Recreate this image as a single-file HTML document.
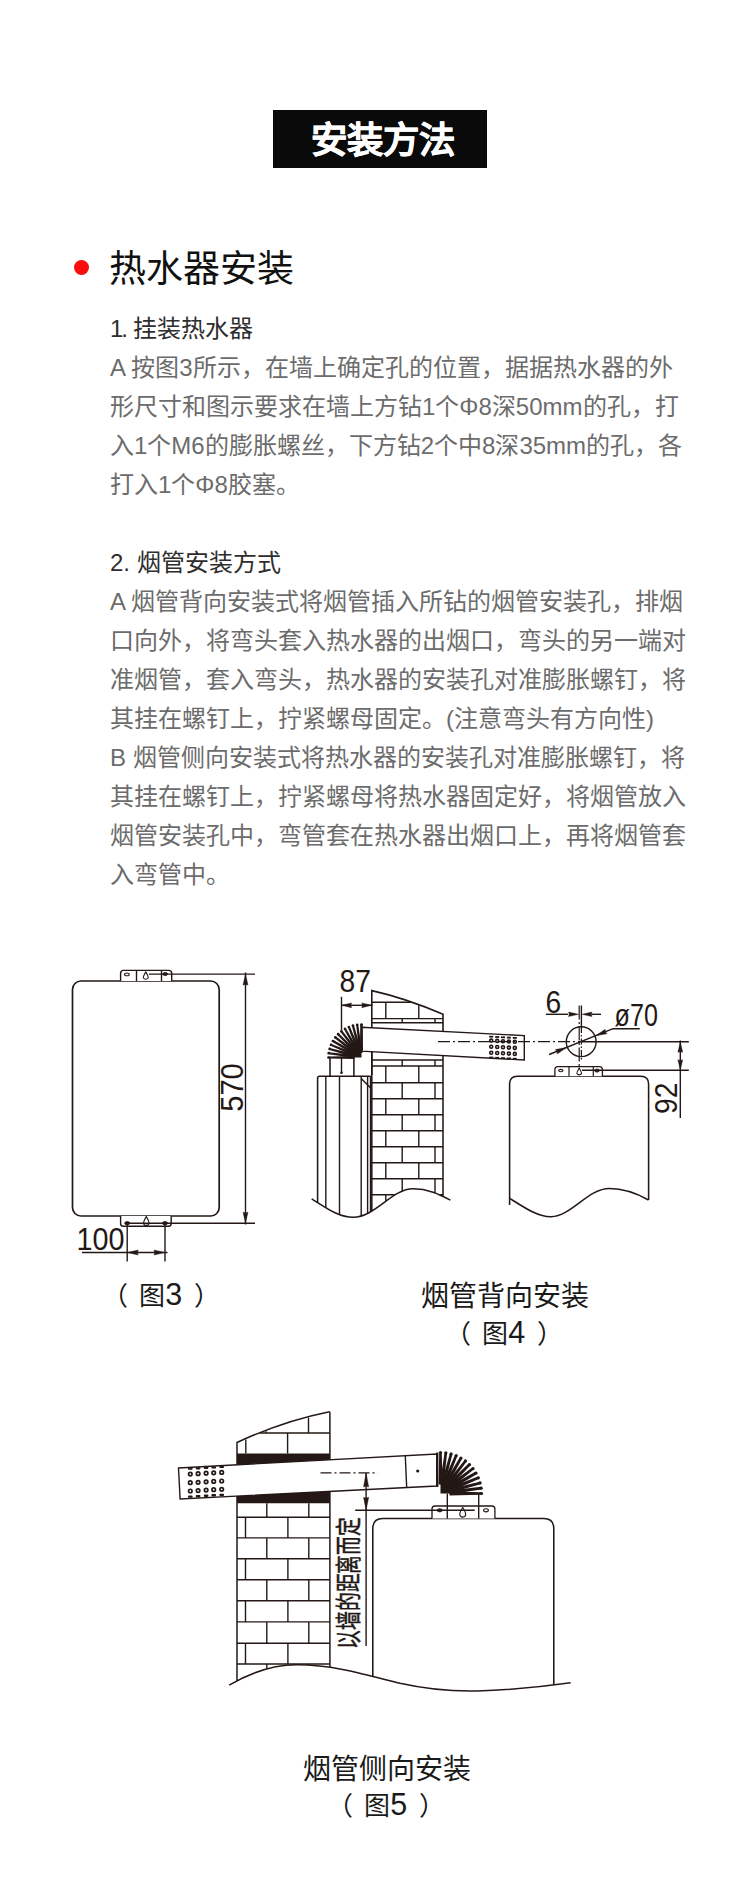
<!DOCTYPE html>
<html lang="zh-CN"><head><meta charset="utf-8">
<style>
*{margin:0;padding:0;box-sizing:border-box}
html,body{width:750px;height:1896px;background:#fff;overflow:hidden}
body{position:relative;font-family:"Liberation Sans",sans-serif;color:#222}
.a{position:absolute;white-space:nowrap}
#ttl{left:273px;top:110px;width:214px;height:58px;background:#0a0a0a}
#ttlt{left:276px;top:112px;width:214px;color:#fff;font-weight:700;font-size:36.4px;line-height:58px;text-align:center;-webkit-text-stroke:0.5px #fff}
#dot{left:74px;top:260px;width:15px;height:15px;border-radius:50%;background:#fb0d0d}
#h2{left:108.5px;top:247.5px;font-size:37px;line-height:44px;font-weight:400;color:#111}
.t{left:110px;font-size:24px;line-height:39px;color:#6c6c6c}
.cap{font-size:28px;line-height:34px;color:#1a1a1a}
.par{font-size:26px;line-height:34px;color:#1a1a1a;word-spacing:4.5px}
svg{position:absolute;left:0;top:0}
</style></head><body>
<div class="a" id="ttl"></div>
<div class="a" id="ttlt">安装方法</div>
<div class="a" id="dot"></div>
<div class="a" id="h2">热水器安装</div>

<div class="a t" style="top:309px;color:#2e2e2e"><span style="letter-spacing:-2px">1.</span> 挂装热水器</div>
<div class="a t" style="top:348px">A 按图3所示，在墙上确定孔的位置，据据热水器的外</div>
<div class="a t" style="top:387px">形尺寸和图示要求在墙上方钻1个Φ8深50mm的孔，打</div>
<div class="a t" style="top:426px">入1个M6的膨胀螺丝，下方钻2个中8深35mm的孔，各</div>
<div class="a t" style="top:465px">打入1个Φ8胶塞。</div>

<div class="a t" style="top:543px;color:#2e2e2e">2. 烟管安装方式</div>
<div class="a t" style="top:582px">A 烟管背向安装式将烟管插入所钻的烟管安装孔，排烟</div>
<div class="a t" style="top:621px">口向外，将弯头套入热水器的出烟口，弯头的另一端对</div>
<div class="a t" style="top:660px">准烟管，套入弯头，热水器的安装孔对准膨胀螺钉，将</div>
<div class="a t" style="top:699px">其挂在螺钉上，拧紧螺母固定。(注意弯头有方向性)</div>
<div class="a t" style="top:738px">B 烟管侧向安装式将热水器的安装孔对准膨胀螺钉，将</div>
<div class="a t" style="top:777px">其挂在螺钉上，拧紧螺母将热水器固定好，将烟管放入</div>
<div class="a t" style="top:816px">烟管安装孔中，弯管套在热水器出烟口上，再将烟管套</div>
<div class="a t" style="top:855px">入弯管中。</div>

<div class="a par" style="left:101.5px;top:1278.5px">（ 图<span style="font-size:30.5px;line-height:0">3</span> ）</div>
<div class="a cap" style="left:421px;top:1279.5px">烟管背向安装</div>
<div class="a par" style="left:444.5px;top:1316.5px">（ 图<span style="font-size:30.5px;line-height:0">4</span> ）</div>
<div class="a cap" style="left:303px;top:1752.5px">烟管侧向安装</div>
<div class="a par" style="left:326.5px;top:1788.5px">（ 图<span style="font-size:30.5px;line-height:0">5</span> ）</div>
<svg width="750" height="1896" viewBox="0 0 750 1896" stroke="#231815" fill="none" font-family="Liberation Sans, sans-serif">
<rect x="72.50" y="981.00" width="146.70" height="235.00" rx="8.5" fill="none" stroke-width="1.7"/>
<path d="M120.6,981 V973.2 Q120.6,970.4 123.4,970.4 H168.9 Q171.7,970.4 171.7,973.2 V981" stroke-width="1.4" fill="#fff" />
<line x1="136.50" y1="970.40" x2="136.50" y2="981.00" stroke-width="1.4" />
<line x1="161.50" y1="970.40" x2="161.50" y2="981.00" stroke-width="1.4" />
<ellipse cx="126.90" cy="974.40" rx="2.3" ry="1.4" fill="none" stroke-width="1.1"/>
<path d="M145.80,971.93 C146.94,973.83 148.27,975.73 148.27,977.62 A2.6,2.4 0 0 1 143.33,977.62 C143.33,975.73 144.66,973.83 145.80,971.93 Z" fill="none" stroke-width="1.1"/>
<ellipse cx="165.20" cy="974.00" rx="2.4" ry="1.5" fill="#231815" stroke-width="0.8"/>
<line x1="149.00" y1="974.10" x2="255.00" y2="974.10" stroke-width="1.4" />
<path d="M120.6,1216 V1223.4 Q120.6,1226.2 123.4,1226.2 H168.4 Q171.2,1226.2 171.2,1223.4 V1216" stroke-width="1.4" fill="#fff" />
<line x1="125.70" y1="1223.20" x2="255.00" y2="1223.20" stroke-width="1.4" />
<ellipse cx="127.20" cy="1223.20" rx="2.6" ry="1.6" fill="#231815" stroke-width="0.8"/>
<ellipse cx="165.00" cy="1223.20" rx="2.6" ry="1.6" fill="#231815" stroke-width="0.8"/>
<path d="M146.30,1216.58 C147.56,1218.67 149.03,1220.77 149.03,1222.88 A2.6,2.4 0 0 1 143.57,1222.88 C143.57,1220.77 145.04,1218.67 146.30,1216.58 Z" fill="none" stroke-width="1.1"/>
<line x1="245.50" y1="972.50" x2="245.50" y2="1224.50" stroke-width="1.4" />
<path d="M245.50,974.10 L248.00,985.10 Q245.50,983.90 243.00,985.10 Z" fill="#231815" stroke="#231815" stroke-width="0.4"/>
<path d="M245.50,1223.20 L243.00,1212.20 Q245.50,1213.40 248.00,1212.20 Z" fill="#231815" stroke="#231815" stroke-width="0.4"/>
<text x="0" y="0" transform="translate(243.00,1087.50) rotate(-90) scale(0.91,1)" font-size="32.10" text-anchor="middle" fill="#231815" stroke="none" >570</text>
<line x1="127.20" y1="1223.20" x2="127.20" y2="1261.50" stroke-width="1.4" />
<line x1="165.00" y1="1223.20" x2="165.00" y2="1261.50" stroke-width="1.4" />
<line x1="82.00" y1="1252.50" x2="167.50" y2="1252.50" stroke-width="1.4" />
<path d="M127.20,1252.50 L138.20,1250.00 Q137.00,1252.50 138.20,1255.00 Z" fill="#231815" stroke="#231815" stroke-width="0.4"/>
<path d="M165.00,1252.50 L154.00,1255.00 Q155.20,1252.50 154.00,1250.00 Z" fill="#231815" stroke="#231815" stroke-width="0.4"/>
<text x="0" y="0" transform="translate(100.50,1249.60) scale(0.91,1)" font-size="31.57" text-anchor="middle" fill="#231815" stroke="none" >100</text>
<clipPath id="c4"><path d="M290,900 H460 V1200.1 L450.4,1200.1 C439,1194 428,1188.8 413,1188.8 C392,1188.8 375,1217.2 353.3,1217.2 C338,1217.2 325,1207 311.7,1198.8 L290,1190 Z"/></clipPath>
<g clip-path="url(#c4)">
<path d="M371.8,1075 V990.6 Q405,998 443,1014.2 V1033" stroke-width="1.6" fill="none" />
<line x1="443.00" y1="1055.50" x2="443.00" y2="1225.00" stroke-width="1.55" />
<line x1="371.80" y1="1051.00" x2="371.80" y2="1225.00" stroke-width="1.55" />
<line x1="371.80" y1="1002.20" x2="411.50" y2="1002.20" stroke-width="1.4" />
<line x1="385.80" y1="1002.20" x2="385.80" y2="1018.60" stroke-width="1.4" />
<line x1="418.80" y1="1005.50" x2="418.80" y2="1018.60" stroke-width="1.4" />
<line x1="371.80" y1="1018.60" x2="443.00" y2="1018.60" stroke-width="1.4" />
<line x1="371.80" y1="1022.80" x2="443.00" y2="1022.80" stroke-width="1.4" />
<line x1="402.20" y1="1018.60" x2="402.20" y2="1022.80" stroke-width="1.4" />
<line x1="435.00" y1="1018.60" x2="435.00" y2="1022.80" stroke-width="1.4" />
<line x1="371.80" y1="1060.00" x2="443.00" y2="1060.00" stroke-width="1.4" />
<line x1="371.80" y1="1066.00" x2="443.00" y2="1066.00" stroke-width="1.4" />
<line x1="402.20" y1="1060.00" x2="402.20" y2="1066.00" stroke-width="1.4" />
<line x1="435.00" y1="1060.00" x2="435.00" y2="1066.00" stroke-width="1.4" />
<line x1="385.80" y1="1066.00" x2="385.80" y2="1082.80" stroke-width="1.4" />
<line x1="418.80" y1="1066.00" x2="418.80" y2="1082.80" stroke-width="1.4" />
<line x1="371.80" y1="1082.80" x2="443.00" y2="1082.80" stroke-width="1.4" />
<line x1="402.20" y1="1082.80" x2="402.20" y2="1098.80" stroke-width="1.4" />
<line x1="435.00" y1="1082.80" x2="435.00" y2="1098.80" stroke-width="1.4" />
<line x1="371.80" y1="1098.80" x2="443.00" y2="1098.80" stroke-width="1.4" />
<line x1="385.80" y1="1098.80" x2="385.80" y2="1114.80" stroke-width="1.4" />
<line x1="418.80" y1="1098.80" x2="418.80" y2="1114.80" stroke-width="1.4" />
<line x1="371.80" y1="1114.80" x2="443.00" y2="1114.80" stroke-width="1.4" />
<line x1="402.20" y1="1114.80" x2="402.20" y2="1130.80" stroke-width="1.4" />
<line x1="435.00" y1="1114.80" x2="435.00" y2="1130.80" stroke-width="1.4" />
<line x1="371.80" y1="1130.80" x2="443.00" y2="1130.80" stroke-width="1.4" />
<line x1="385.80" y1="1130.80" x2="385.80" y2="1146.80" stroke-width="1.4" />
<line x1="418.80" y1="1130.80" x2="418.80" y2="1146.80" stroke-width="1.4" />
<line x1="371.80" y1="1146.80" x2="443.00" y2="1146.80" stroke-width="1.4" />
<line x1="402.20" y1="1146.80" x2="402.20" y2="1162.80" stroke-width="1.4" />
<line x1="435.00" y1="1146.80" x2="435.00" y2="1162.80" stroke-width="1.4" />
<line x1="371.80" y1="1162.80" x2="443.00" y2="1162.80" stroke-width="1.4" />
<line x1="385.80" y1="1162.80" x2="385.80" y2="1178.80" stroke-width="1.4" />
<line x1="418.80" y1="1162.80" x2="418.80" y2="1178.80" stroke-width="1.4" />
<line x1="371.80" y1="1178.80" x2="443.00" y2="1178.80" stroke-width="1.4" />
<line x1="402.20" y1="1178.80" x2="402.20" y2="1194.80" stroke-width="1.4" />
<line x1="435.00" y1="1178.80" x2="435.00" y2="1194.80" stroke-width="1.4" />
<line x1="371.80" y1="1194.80" x2="443.00" y2="1194.80" stroke-width="1.4" />
<line x1="385.80" y1="1194.80" x2="385.80" y2="1215.00" stroke-width="1.4" />
<line x1="418.80" y1="1194.80" x2="418.80" y2="1215.00" stroke-width="1.4" />
</g>
<path d="M361.5,1027.3 L524.3,1035.6 L524.3,1060 L361.5,1051.2 Z" stroke-width="1.4" fill="#fff" />
<circle cx="491.2" cy="1040.6" r="1.5" fill="none" stroke-width="1.6"/>
<circle cx="491.2" cy="1046.7" r="1.5" fill="none" stroke-width="1.6"/>
<circle cx="491.2" cy="1052.7" r="1.5" fill="none" stroke-width="1.6"/>
<rect x="489.2" y="1035.8" width="4" height="1.8" fill="#231815" stroke="none"/>
<rect x="489.2" y="1056.6" width="4" height="1.8" fill="#231815" stroke="none"/>
<circle cx="497.2" cy="1040.9" r="1.5" fill="none" stroke-width="1.6"/>
<circle cx="497.2" cy="1047.0" r="1.5" fill="none" stroke-width="1.6"/>
<circle cx="497.2" cy="1053.0" r="1.5" fill="none" stroke-width="1.6"/>
<rect x="495.2" y="1036.1" width="4" height="1.8" fill="#231815" stroke="none"/>
<rect x="495.2" y="1056.9" width="4" height="1.8" fill="#231815" stroke="none"/>
<circle cx="503.0" cy="1041.2" r="1.5" fill="none" stroke-width="1.6"/>
<circle cx="503.0" cy="1047.3" r="1.5" fill="none" stroke-width="1.6"/>
<circle cx="503.0" cy="1053.3" r="1.5" fill="none" stroke-width="1.6"/>
<rect x="501.0" y="1036.4" width="4" height="1.8" fill="#231815" stroke="none"/>
<rect x="501.0" y="1057.2" width="4" height="1.8" fill="#231815" stroke="none"/>
<circle cx="508.9" cy="1041.5" r="1.5" fill="none" stroke-width="1.6"/>
<circle cx="508.9" cy="1047.6" r="1.5" fill="none" stroke-width="1.6"/>
<circle cx="508.9" cy="1053.6" r="1.5" fill="none" stroke-width="1.6"/>
<rect x="506.9" y="1036.7" width="4" height="1.8" fill="#231815" stroke="none"/>
<rect x="506.9" y="1057.5" width="4" height="1.8" fill="#231815" stroke="none"/>
<circle cx="514.8" cy="1041.8" r="1.5" fill="none" stroke-width="1.6"/>
<circle cx="514.8" cy="1047.9" r="1.5" fill="none" stroke-width="1.6"/>
<circle cx="514.8" cy="1053.9" r="1.5" fill="none" stroke-width="1.6"/>
<rect x="512.8" y="1037.0" width="4" height="1.8" fill="#231815" stroke="none"/>
<rect x="512.8" y="1057.8" width="4" height="1.8" fill="#231815" stroke="none"/>
<line x1="438" y1="1041.6" x2="580" y2="1041.6" stroke-width="1.2" stroke-dasharray="12,3,2,3"/>
<g clip-path="url(#c4)">
<path d="M317.6,1225 V1078.3 Q317.6,1076.3 319.6,1076.3 H370.6" stroke-width="1.55" fill="none" />
<line x1="325.80" y1="1076.30" x2="325.80" y2="1225.00" stroke-width="1.4" />
<line x1="339.50" y1="1076.30" x2="339.50" y2="1225.00" stroke-width="1.4" />
<line x1="361.20" y1="1076.30" x2="361.20" y2="1225.00" stroke-width="1.4" />
<line x1="367.60" y1="1076.30" x2="367.60" y2="1225.00" stroke-width="1.4" />
<line x1="361.20" y1="1078.50" x2="370.20" y2="1087.50" stroke-width="1.4" />
<line x1="370.40" y1="1076.30" x2="370.40" y2="1225.00" stroke-width="1.2" />
</g>
<line x1="330.00" y1="1057.00" x2="330.00" y2="1076.30" stroke-width="1.55" />
<line x1="353.90" y1="1057.00" x2="353.90" y2="1076.30" stroke-width="1.55" />
<line x1="341.50" y1="996.80" x2="341.50" y2="1072.50" stroke-width="1.4" />
<path d="M361.50,1057.50 L327.50,1057.50 A34,34 0 0 1 361.50,1023.50 Z" fill="#fff" stroke="none"/>
<path d="M361.50,1057.50 L351.50,1057.50 A10,10 0 0 1 361.50,1047.50 Z" fill="#231815" stroke="none"/>
<path d="M354.50,1056.00 L328.50,1056.45 L328.50,1058.55 L354.50,1059.00 Z" fill="#231815" stroke="none"/>
<circle cx="328.50" cy="1057.50" r="1.35" fill="#231815" stroke="none"/>
<path d="M354.76,1055.10 L328.92,1052.15 L328.65,1054.23 L354.36,1058.07 Z" fill="#231815" stroke="none"/>
<circle cx="328.78" cy="1053.19" r="1.35" fill="#231815" stroke="none"/>
<path d="M355.13,1054.24 L329.90,1047.94 L329.35,1049.97 L354.35,1057.14 Z" fill="#231815" stroke="none"/>
<circle cx="329.62" cy="1048.96" r="1.35" fill="#231815" stroke="none"/>
<path d="M355.61,1053.44 L331.41,1043.90 L330.61,1045.84 L354.46,1056.21 Z" fill="#231815" stroke="none"/>
<circle cx="331.01" cy="1044.87" r="1.35" fill="#231815" stroke="none"/>
<path d="M356.19,1052.70 L333.45,1040.09 L332.40,1041.91 L354.69,1055.30 Z" fill="#231815" stroke="none"/>
<circle cx="332.92" cy="1041.00" r="1.35" fill="#231815" stroke="none"/>
<path d="M356.86,1052.05 L335.96,1036.58 L334.68,1038.24 L355.03,1054.43 Z" fill="#231815" stroke="none"/>
<circle cx="335.32" cy="1037.41" r="1.35" fill="#231815" stroke="none"/>
<path d="M357.61,1051.49 L338.91,1033.42 L337.42,1034.91 L355.49,1053.61 Z" fill="#231815" stroke="none"/>
<circle cx="338.17" cy="1034.17" r="1.35" fill="#231815" stroke="none"/>
<path d="M358.43,1051.03 L342.24,1030.68 L340.58,1031.96 L356.05,1052.86 Z" fill="#231815" stroke="none"/>
<circle cx="341.41" cy="1031.32" r="1.35" fill="#231815" stroke="none"/>
<path d="M359.30,1050.69 L345.91,1028.40 L344.09,1029.45 L356.70,1052.19 Z" fill="#231815" stroke="none"/>
<circle cx="345.00" cy="1028.92" r="1.35" fill="#231815" stroke="none"/>
<path d="M360.21,1050.46 L349.84,1026.61 L347.90,1027.41 L357.44,1051.61 Z" fill="#231815" stroke="none"/>
<circle cx="348.87" cy="1027.01" r="1.35" fill="#231815" stroke="none"/>
<path d="M361.14,1050.35 L353.97,1025.35 L351.94,1025.90 L358.24,1051.13 Z" fill="#231815" stroke="none"/>
<circle cx="352.96" cy="1025.62" r="1.35" fill="#231815" stroke="none"/>
<path d="M362.07,1050.36 L358.23,1024.65 L356.15,1024.92 L359.10,1050.76 Z" fill="#231815" stroke="none"/>
<circle cx="357.19" cy="1024.78" r="1.35" fill="#231815" stroke="none"/>
<path d="M363.00,1050.50 L362.55,1024.50 L360.45,1024.50 L360.00,1050.50 Z" fill="#231815" stroke="none"/>
<circle cx="361.50" cy="1024.50" r="1.35" fill="#231815" stroke="none"/>
<path d="M361.5,1024.5 V1053" stroke-width="2.0" fill="none" />
<circle cx="341.5" cy="1072.8" r="1.3" fill="#231815" stroke="none"/>
<line x1="341.50" y1="1005.30" x2="372.50" y2="1005.30" stroke-width="1.4" />
<path d="M341.50,1005.30 L351.50,1002.90 Q350.30,1005.30 351.50,1007.70 Z" fill="#231815" stroke="#231815" stroke-width="0.4"/>
<path d="M371.80,1005.30 L361.80,1007.70 Q363.00,1005.30 361.80,1002.90 Z" fill="#231815" stroke="#231815" stroke-width="0.4"/>
<text x="0" y="0" transform="translate(355.20,991.80) scale(0.91,1)" font-size="31.03" text-anchor="middle" fill="#231815" stroke="none" >87</text>
<path d="M509.6,1205 V1084 Q509.6,1076.2 517.4,1076.2 H640.8 Q648.6,1076.2 648.6,1084 V1200" stroke-width="1.55" fill="none" />
<path d="M509.3,1198.1 C525,1208 538,1217 551,1216.8 C572,1216 588,1188.5 609.3,1188.5 C626,1188.5 638,1194 648.5,1200" stroke-width="1.55" fill="none" />
<path d="M311.7,1198.8 C325,1207 338,1217.2 353.3,1217.2 C375,1217.2 392,1188.8 413,1188.8 C428,1188.8 439,1194 450.4,1200.1" stroke-width="1.55" fill="none" />
<path d="M554.9,1076.2 V1069.6 Q554.9,1066.6 557.9,1066.6 H599.4 Q602.4,1066.6 602.4,1069.6 V1076.2" stroke-width="1.3" fill="#fff" />
<line x1="569.00" y1="1066.60" x2="569.00" y2="1076.20" stroke-width="1.2" />
<line x1="593.30" y1="1066.60" x2="593.30" y2="1076.20" stroke-width="1.2" />
<ellipse cx="560.80" cy="1070.60" rx="2.2" ry="1.2" fill="none" stroke-width="1.1"/>
<path d="M579.20,1068.15 C580.28,1069.95 581.54,1071.75 581.54,1073.55 A2.6,2.4 0 0 1 576.86,1073.55 C576.86,1071.75 578.12,1069.95 579.20,1068.15 Z" fill="none" stroke-width="1.1"/>
<ellipse cx="597.00" cy="1070.60" rx="2.4" ry="1.5" fill="#231815" stroke-width="0.8"/>
<line x1="582.00" y1="1070.20" x2="688.80" y2="1070.20" stroke-width="1.4" />
<circle cx="581.2" cy="1041.7" r="14.9" fill="none" stroke-width="1.4"/>
<line x1="581.20" y1="1041.80" x2="688.80" y2="1041.80" stroke-width="1.4" />
<line x1="581.40" y1="1005.50" x2="581.40" y2="1027.00" stroke-width="1.4" />
<line x1="581.4" y1="1027" x2="581.4" y2="1060" stroke-width="1.2" stroke-dasharray="6,2,1.5,2"/>
<line x1="579.2" y1="1005.5" x2="579.2" y2="1066" stroke-width="1.2" stroke-dasharray="14,2.5,2,2.5"/>
<line x1="545.90" y1="1014.30" x2="568.00" y2="1014.30" stroke-width="1.4" />
<line x1="592.00" y1="1014.30" x2="601.00" y2="1014.30" stroke-width="1.4" />
<path d="M578.60,1014.30 L568.60,1016.60 Q569.80,1014.30 568.60,1012.00 Z" fill="#231815" stroke="#231815" stroke-width="0.4"/>
<path d="M582.00,1014.30 L592.00,1012.00 Q590.80,1014.30 592.00,1016.60 Z" fill="#231815" stroke="#231815" stroke-width="0.4"/>
<text x="0" y="0" transform="translate(553.30,1012.60) scale(0.91,1)" font-size="31.03" text-anchor="middle" fill="#231815" stroke="none" >6</text>
<path d="M549.1,1054.5 L613,1028.7 H639.8" stroke-width="1.4" fill="none" />
<path d="M566.50,1047.60 L557.20,1053.95 Q557.42,1051.28 555.40,1049.50 Z" fill="#231815" stroke="#231815" stroke-width="0.4"/>
<path d="M595.80,1035.70 L605.10,1029.35 Q604.88,1032.02 606.90,1033.80 Z" fill="#231815" stroke="#231815" stroke-width="0.4"/>
<text x="0" y="0" transform="translate(614.60,1026.20) scale(0.81,1)" font-size="31.03" text-anchor="start" fill="#231815" stroke="none" >ø70</text>
<line x1="680.30" y1="1040.50" x2="680.30" y2="1118.10" stroke-width="1.4" />
<path d="M680.30,1041.80 L682.70,1052.30 Q680.30,1051.10 677.90,1052.30 Z" fill="#231815" stroke="#231815" stroke-width="0.4"/>
<path d="M680.30,1070.20 L677.90,1059.70 Q680.30,1060.90 682.70,1059.70 Z" fill="#231815" stroke="#231815" stroke-width="0.4"/>
<text x="0" y="0" transform="translate(676.80,1098.20) rotate(-90) scale(0.91,1)" font-size="31.03" text-anchor="middle" fill="#231815" stroke="none" >92</text>
<clipPath id="c5"><path d="M200,1380 H600 V1682 L570.6,1682.7 C540,1687 510,1690 477.3,1691 C455,1691.5 430,1690 400,1683.3 C360,1673 330,1664.6 296.8,1664.8 C272,1664.8 250,1673 229.1,1685.2 L200,1700 Z"/></clipPath>
<g clip-path="url(#c5)">
<path d="M237.0,1700 V1442.5 Q283.35,1420.9 328.4,1411.9 Q329.9,1411.5 329.9,1413.5 V1700" stroke-width="1.5" fill="none" />
<line x1="259.50" y1="1433.00" x2="329.90" y2="1433.00" stroke-width="1.4" />
<line x1="266.00" y1="1430.80" x2="266.00" y2="1433.00" stroke-width="1.2" />
<line x1="308.50" y1="1417.50" x2="308.50" y2="1433.00" stroke-width="1.4" />
<line x1="245.80" y1="1439.50" x2="245.80" y2="1453.50" stroke-width="1.4" />
<line x1="287.60" y1="1433.00" x2="287.60" y2="1453.50" stroke-width="1.4" />
<path d="M237.0,1453.5 H329.9 V1459.79 L237.0,1464.83 Z" fill="#231815" stroke="none"/>
<path d="M237.0,1496.04 L329.9,1491.37 V1503.3 H237.0 Z" fill="#231815" stroke="none"/>
<line x1="266.80" y1="1503.30" x2="266.80" y2="1517.30" stroke-width="1.4" />
<line x1="308.80" y1="1503.30" x2="308.80" y2="1517.30" stroke-width="1.4" />
<line x1="237.00" y1="1517.30" x2="329.90" y2="1517.30" stroke-width="1.4" />
<line x1="245.50" y1="1517.30" x2="245.50" y2="1537.90" stroke-width="1.4" />
<line x1="287.90" y1="1517.30" x2="287.90" y2="1537.90" stroke-width="1.4" />
<line x1="237.00" y1="1537.90" x2="329.90" y2="1537.90" stroke-width="1.4" />
<line x1="266.80" y1="1537.90" x2="266.80" y2="1558.80" stroke-width="1.4" />
<line x1="308.80" y1="1537.90" x2="308.80" y2="1558.80" stroke-width="1.4" />
<line x1="237.00" y1="1558.80" x2="329.90" y2="1558.80" stroke-width="1.4" />
<line x1="245.50" y1="1558.80" x2="245.50" y2="1579.70" stroke-width="1.4" />
<line x1="287.90" y1="1558.80" x2="287.90" y2="1579.70" stroke-width="1.4" />
<line x1="237.00" y1="1579.70" x2="329.90" y2="1579.70" stroke-width="1.4" />
<line x1="266.80" y1="1579.70" x2="266.80" y2="1600.80" stroke-width="1.4" />
<line x1="308.80" y1="1579.70" x2="308.80" y2="1600.80" stroke-width="1.4" />
<line x1="237.00" y1="1600.80" x2="329.90" y2="1600.80" stroke-width="1.4" />
<line x1="245.50" y1="1600.80" x2="245.50" y2="1621.90" stroke-width="1.4" />
<line x1="287.90" y1="1600.80" x2="287.90" y2="1621.90" stroke-width="1.4" />
<line x1="237.00" y1="1621.90" x2="329.90" y2="1621.90" stroke-width="1.4" />
<line x1="266.80" y1="1621.90" x2="266.80" y2="1643.20" stroke-width="1.4" />
<line x1="308.80" y1="1621.90" x2="308.80" y2="1643.20" stroke-width="1.4" />
<line x1="237.00" y1="1643.20" x2="329.90" y2="1643.20" stroke-width="1.4" />
<line x1="245.50" y1="1643.20" x2="245.50" y2="1664.00" stroke-width="1.4" />
<line x1="287.90" y1="1643.20" x2="287.90" y2="1664.00" stroke-width="1.4" />
<line x1="237.00" y1="1664.00" x2="329.90" y2="1664.00" stroke-width="1.4" />
<line x1="266.80" y1="1664.00" x2="266.80" y2="1700.00" stroke-width="1.4" />
<line x1="308.80" y1="1664.00" x2="308.80" y2="1700.00" stroke-width="1.4" />
<path d="M372.8,1700 V1528.5 Q372.8,1518.5 382.8,1518.5 H543.8 Q553.8,1518.5 553.8,1528.5 V1700" stroke-width="1.55" fill="none" />
</g>
<path d="M229.1,1685.2 C250,1673 272,1664.8 296.8,1664.8 C330,1664.6 360,1673 400,1683.3 C430,1690 455,1691.5 477.3,1691 C510,1690 540,1687 570.6,1682.7" stroke-width="1.55" fill="none" />
<path d="M178.5,1468 L436.7,1454 L436.7,1486 L180.1,1498.9 Z" stroke-width="1.4" fill="#fff" />
<line x1="405.30" y1="1456.00" x2="406.70" y2="1487.80" stroke-width="1.4" />
<circle cx="417.7" cy="1471" r="1.6" fill="#231815" stroke="none"/>
<circle cx="190.3" cy="1474.1" r="1.75" fill="none" stroke-width="1.7"/>
<circle cx="190.3" cy="1482.7" r="1.75" fill="none" stroke-width="1.7"/>
<circle cx="190.3" cy="1491.0" r="1.75" fill="none" stroke-width="1.7"/>
<rect x="188.0" y="1467.6" width="4.6" height="2.2" rx="0.8" fill="#231815" stroke="none"/>
<rect x="188.0" y="1495.4" width="4.6" height="2.4" rx="0.8" fill="#231815" stroke="none"/>
<circle cx="198.1" cy="1473.7" r="1.75" fill="none" stroke-width="1.7"/>
<circle cx="198.1" cy="1482.3" r="1.75" fill="none" stroke-width="1.7"/>
<circle cx="198.1" cy="1490.6" r="1.75" fill="none" stroke-width="1.7"/>
<rect x="195.8" y="1467.2" width="4.6" height="2.2" rx="0.8" fill="#231815" stroke="none"/>
<rect x="195.8" y="1495.0" width="4.6" height="2.4" rx="0.8" fill="#231815" stroke="none"/>
<circle cx="206.1" cy="1473.2" r="1.75" fill="none" stroke-width="1.7"/>
<circle cx="206.1" cy="1481.8" r="1.75" fill="none" stroke-width="1.7"/>
<circle cx="206.1" cy="1490.1" r="1.75" fill="none" stroke-width="1.7"/>
<rect x="203.8" y="1466.7" width="4.6" height="2.2" rx="0.8" fill="#231815" stroke="none"/>
<rect x="203.8" y="1494.5" width="4.6" height="2.4" rx="0.8" fill="#231815" stroke="none"/>
<circle cx="213.7" cy="1472.8" r="1.75" fill="none" stroke-width="1.7"/>
<circle cx="213.7" cy="1481.4" r="1.75" fill="none" stroke-width="1.7"/>
<circle cx="213.7" cy="1489.7" r="1.75" fill="none" stroke-width="1.7"/>
<rect x="211.4" y="1466.3" width="4.6" height="2.2" rx="0.8" fill="#231815" stroke="none"/>
<rect x="211.4" y="1494.1" width="4.6" height="2.4" rx="0.8" fill="#231815" stroke="none"/>
<circle cx="221.7" cy="1472.4" r="1.75" fill="none" stroke-width="1.7"/>
<circle cx="221.7" cy="1481.0" r="1.75" fill="none" stroke-width="1.7"/>
<circle cx="221.7" cy="1489.3" r="1.75" fill="none" stroke-width="1.7"/>
<rect x="219.4" y="1465.9" width="4.6" height="2.2" rx="0.8" fill="#231815" stroke="none"/>
<rect x="219.4" y="1493.7" width="4.6" height="2.4" rx="0.8" fill="#231815" stroke="none"/>
<path d="M432,1518.5 V1509 Q432,1506 435,1506 H491.9 Q494.9,1506 494.9,1509 V1518.5" stroke-width="1.3" fill="#fff" />
<line x1="447.30" y1="1493.00" x2="447.30" y2="1518.50" stroke-width="1.4" />
<line x1="478.70" y1="1493.00" x2="478.70" y2="1518.50" stroke-width="1.4" />
<line x1="355.20" y1="1510.30" x2="474.70" y2="1510.30" stroke-width="1.4" />
<ellipse cx="439.70" cy="1510.30" rx="2.6" ry="1.6" fill="#231815" stroke-width="0.8"/>
<path d="M462.70,1507.42 C464.08,1509.72 465.69,1512.02 465.69,1514.32 A2.6,2.4 0 0 1 459.71,1514.32 C459.71,1512.02 461.32,1509.72 462.70,1507.42 Z" fill="none" stroke-width="1.1"/>
<ellipse cx="486.00" cy="1510.30" rx="2.4" ry="1.55" fill="none" stroke-width="1.1"/>
<path d="M440.50,1493.50 L440.50,1451.50 A42,42 0 0 1 482.50,1493.50 Z" fill="#fff" stroke="none"/>
<path d="M440.50,1493.50 L440.50,1481.50 A12,12 0 0 1 452.50,1493.50 Z" fill="#231815" stroke="none"/>
<path d="M442.40,1484.50 L441.80,1452.50 L439.20,1452.50 L438.60,1484.50 Z" fill="#231815" stroke="none"/>
<circle cx="440.50" cy="1452.50" r="1.60" fill="#231815" stroke="none"/>
<path d="M443.56,1484.82 L447.14,1453.02 L444.56,1452.68 L439.79,1484.33 Z" fill="#231815" stroke="none"/>
<circle cx="445.85" cy="1452.85" r="1.60" fill="#231815" stroke="none"/>
<path d="M444.66,1485.30 L452.37,1454.23 L449.86,1453.56 L440.99,1484.31 Z" fill="#231815" stroke="none"/>
<circle cx="451.11" cy="1453.90" r="1.60" fill="#231815" stroke="none"/>
<path d="M445.70,1485.91 L457.39,1456.12 L454.99,1455.12 L442.19,1484.46 Z" fill="#231815" stroke="none"/>
<circle cx="456.19" cy="1455.62" r="1.60" fill="#231815" stroke="none"/>
<path d="M446.65,1486.66 L462.13,1458.64 L459.87,1457.34 L443.35,1484.76 Z" fill="#231815" stroke="none"/>
<circle cx="461.00" cy="1457.99" r="1.60" fill="#231815" stroke="none"/>
<path d="M447.49,1487.52 L466.49,1461.76 L464.43,1460.18 L444.47,1485.20 Z" fill="#231815" stroke="none"/>
<circle cx="465.46" cy="1460.97" r="1.60" fill="#231815" stroke="none"/>
<path d="M448.21,1488.48 L470.41,1465.43 L468.57,1463.59 L445.52,1485.79 Z" fill="#231815" stroke="none"/>
<circle cx="469.49" cy="1464.51" r="1.60" fill="#231815" stroke="none"/>
<path d="M448.80,1489.53 L473.82,1469.57 L472.24,1467.51 L446.48,1486.51 Z" fill="#231815" stroke="none"/>
<circle cx="473.03" cy="1468.54" r="1.60" fill="#231815" stroke="none"/>
<path d="M449.24,1490.65 L476.66,1474.13 L475.36,1471.87 L447.34,1487.35 Z" fill="#231815" stroke="none"/>
<circle cx="476.01" cy="1473.00" r="1.60" fill="#231815" stroke="none"/>
<path d="M449.54,1491.81 L478.88,1479.01 L477.88,1476.61 L448.09,1488.30 Z" fill="#231815" stroke="none"/>
<circle cx="478.38" cy="1477.81" r="1.60" fill="#231815" stroke="none"/>
<path d="M449.69,1493.01 L480.44,1484.14 L479.77,1481.63 L448.70,1489.34 Z" fill="#231815" stroke="none"/>
<circle cx="480.10" cy="1482.89" r="1.60" fill="#231815" stroke="none"/>
<path d="M449.67,1494.21 L481.32,1489.44 L480.98,1486.86 L449.18,1490.44 Z" fill="#231815" stroke="none"/>
<circle cx="481.15" cy="1488.15" r="1.60" fill="#231815" stroke="none"/>
<path d="M449.50,1495.40 L481.50,1494.80 L481.50,1492.20 L449.50,1491.60 Z" fill="#231815" stroke="none"/>
<circle cx="481.50" cy="1493.50" r="1.60" fill="#231815" stroke="none"/>
<line x1="437.30" y1="1452.50" x2="437.30" y2="1487.00" stroke-width="2.2" />
<line x1="320.5" y1="1472.9" x2="377.6" y2="1472.9" stroke-width="1.3" stroke-dasharray="11,3,2,3"/>
<line x1="366.10" y1="1472.90" x2="366.10" y2="1646.00" stroke-width="1.4" />
<path d="M366.10,1472.90 L368.70,1486.90 Q366.10,1485.70 363.50,1486.90 Z" fill="#231815" stroke="#231815" stroke-width="0.4"/>
<path d="M366.10,1510.30 L363.50,1497.30 Q366.10,1498.50 368.70,1497.30 Z" fill="#231815" stroke="#231815" stroke-width="0.4"/>
<text transform="translate(357.8,1583) rotate(-90) scale(0.71,1)" font-size="26.5" text-anchor="middle" fill="#231815" stroke="#231815" stroke-width="0.5">以墙的距离而定</text>
</svg>
</body></html>
